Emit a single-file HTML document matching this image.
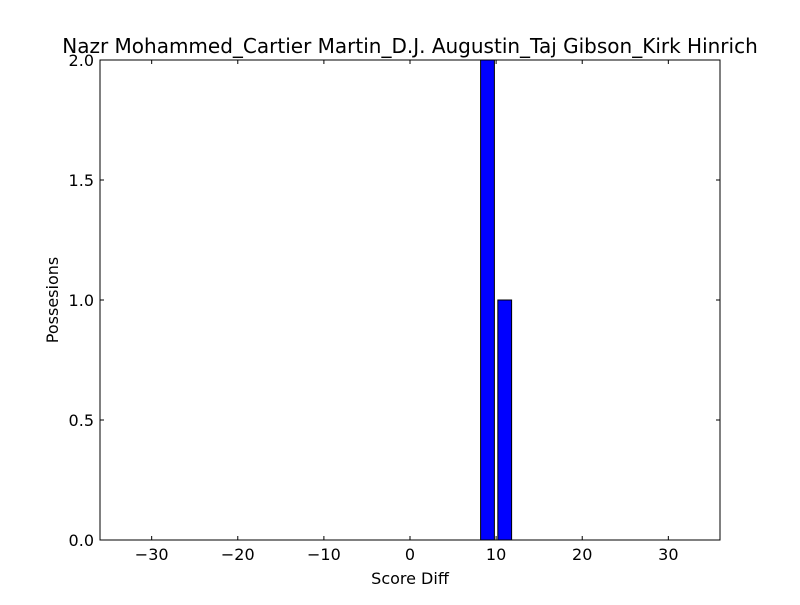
<!DOCTYPE html>
<html><head><meta charset="utf-8"><style>
body{margin:0;background:#fff;}
svg{font-family:"DejaVu Sans","Liberation Sans",sans-serif;}
</style></head><body>
<svg id="chart" width="800" height="600" viewBox="0 0 800 600">
<rect width="800" height="600" fill="#fff"/>
<text x="410" y="53" font-size="20" text-anchor="middle">Nazr Mohammed_Cartier Martin_D.J. Augustin_Taj Gibson_Kirk Hinrich</text>
<g id="bars"></g>
<g id="ticks"></g>
<rect x="100" y="60" width="620" height="480" fill="none" stroke="#000" stroke-width="1"/>
<text x="410" y="584" font-size="16" text-anchor="middle">Score Diff</text>
<text transform="translate(58,300) rotate(-90)" font-size="16" text-anchor="middle">Possesions</text>
</svg>
<script>
const binCenters = [];
for (let c = -35; c <= 35; c += 2) binCenters.push(c);
const possessionCenters = [9, 11];
const possessionValues = [2, 1];
const xTicks = [-30, -20, -10, 0, 10, 20, 30];
const yTicks = [0, 0.5, 1.0, 1.5, 2.0];
const yTickLabels = ["0.0", "0.5", "1.0", "1.5", "2.0"];

const X0 = 100, X1 = 720, Y0 = 540, Y1 = 60;
const xMin = -36, xMax = 36, yMin = 0, yMax = 2;
const sx = v => X0 + (v - xMin) / (xMax - xMin) * (X1 - X0);
const sy = v => Y0 - (v - yMin) / (yMax - yMin) * (Y0 - Y1);
const NS = "http://www.w3.org/2000/svg";
const bars = document.getElementById('bars');
const ticks = document.getElementById('ticks');
const barW = 1.6;

binCenters.forEach(c => {
  const idx = possessionCenters.indexOf(c);
  const v = idx >= 0 ? possessionValues[idx] : 0;
  const r = document.createElementNS(NS, 'rect');
  r.setAttribute('x', sx(c - barW / 2));
  r.setAttribute('width', sx(c + barW / 2) - sx(c - barW / 2));
  r.setAttribute('y', sy(v));
  r.setAttribute('height', Math.max(0, sy(0) - sy(v)));
  r.setAttribute('fill', '#0000ff');
  r.setAttribute('stroke', '#000');
  r.setAttribute('stroke-width', '1');
  
  
  bars.appendChild(r);
});

function line(x1, y1, x2, y2) {
  const l = document.createElementNS(NS, 'line');
  l.setAttribute('x1', x1); l.setAttribute('y1', y1);
  l.setAttribute('x2', x2); l.setAttribute('y2', y2);
  l.setAttribute('stroke', '#000');
  
  
  ticks.appendChild(l);
}
function text(x, y, s, anchor) {
  const t = document.createElementNS(NS, 'text');
  t.setAttribute('x', x); t.setAttribute('y', y);
  t.setAttribute('font-size', '16');
  t.setAttribute('text-anchor', anchor);
  t.textContent = s;
  
  
  ticks.appendChild(t);
}
xTicks.forEach(v => {
  const x = sx(v);
  line(x, Y0, x, Y0 - 4); line(x, Y1, x, Y1 + 4);
  text(x, 560, v < 0 ? '\u2212' + Math.abs(v) : String(v), 'middle');
});
yTicks.forEach((v, i) => {
  const y = sy(v);
  line(X0, y, X0 + 4, y); line(X1, y, X1 - 4, y);
  text(94, y + 6, yTickLabels[i], 'end');
});
</script>
</body></html>
